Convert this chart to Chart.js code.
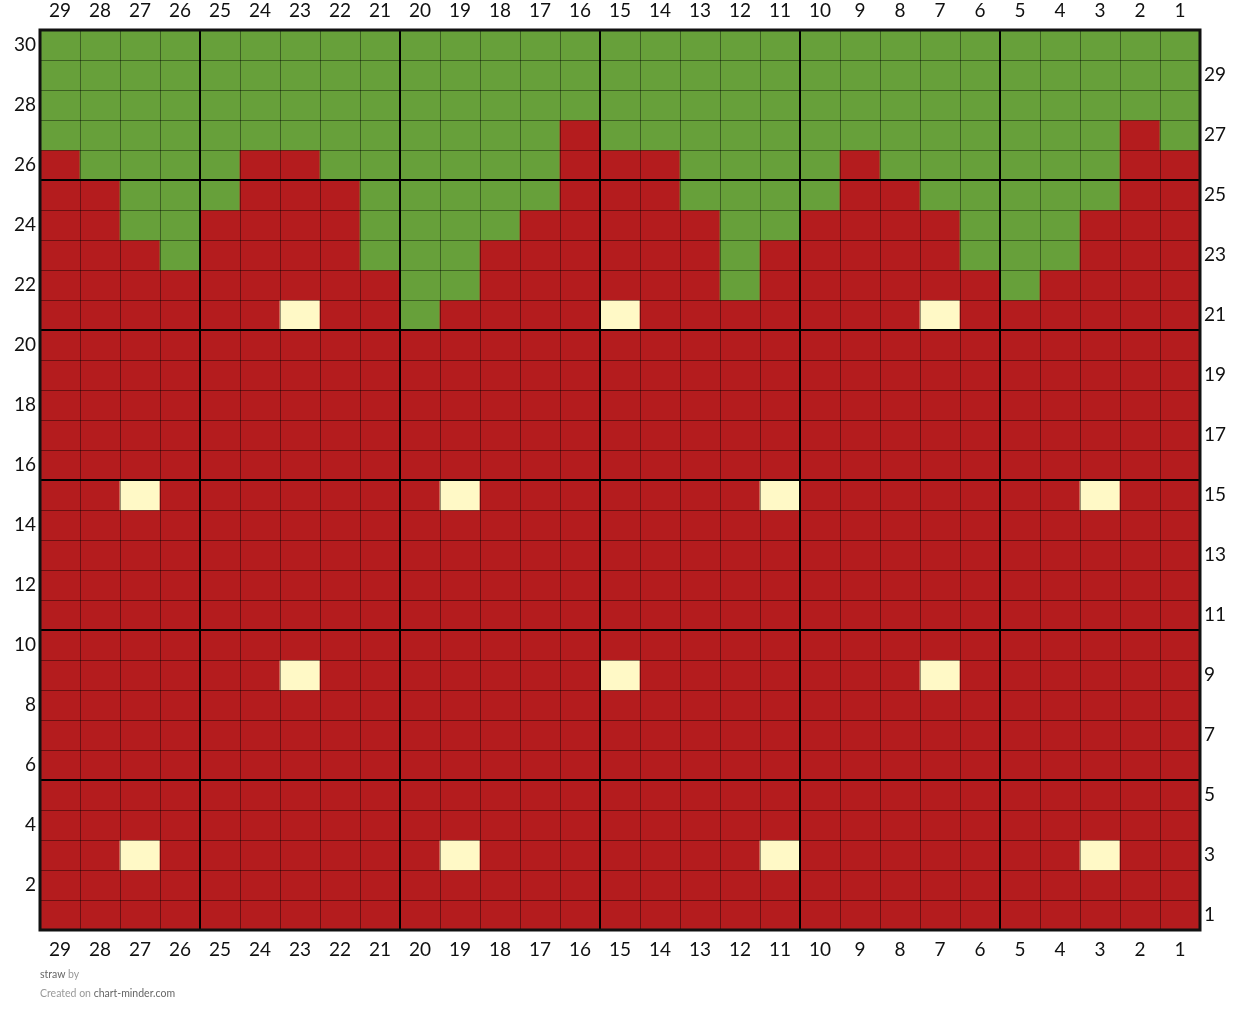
<!DOCTYPE html>
<html>
<head>
<meta charset="utf-8">
<title>straw</title>
<script src="https://cdn.jsdelivr.net/npm/chart.js@4.4.1/dist/chart.umd.min.js"></script>
<style>
  body { margin: 0; background: #fff; font-family: Lato, "Noto Sans", sans-serif; }
  #wrap { position: relative; width: 1240px; height: 1023px; }
  .foot { position: absolute; left: 40px; font-size: 10.5px; color: #999; white-space: nowrap; }
  .foot b { font-weight: normal; color: #666; }
</style>
</head>
<body>
<div id="wrap">
  <canvas id="chart" width="1240" height="1023"></canvas>
  <div class="foot" style="top:968px"><b>straw</b> by</div>
  <div class="foot" style="top:987px">Created on <b>chart-minder.com</b></div>
</div>
<script>
// column numbers, left to right
const colLabels = ["29","28","27","26","25","24","23","22","21","20","19","18","17","16","15",
                   "14","13","12","11","10","9","8","7","6","5","4","3","2","1"];
const leftRowLabels = [30, 28, 26, 24, 22, 20, 18, 16, 14, 12, 10, 8, 6, 4, 2];
const rightRowLabels = [29, 27, 25, 23, 21, 19, 17, 15, 13, 11, 9, 7, 5, 3, 1];

// one string per row, row 30 first; G = green, R = red, Y = seed
const rowPattern = [
  "GGGGGGGGGGGGGGGGGGGGGGGGGGGGG", // 30
  "GGGGGGGGGGGGGGGGGGGGGGGGGGGGG", // 29
  "GGGGGGGGGGGGGGGGGGGGGGGGGGGGG", // 28
  "GGGGGGGGGGGGGRGGGGGGGGGGGGGRG", // 27
  "RGGGGRRGGGGGGRRRGGGGRGGGGGGRR", // 26
  "RRGGGRRRGGGGGRRRGGGGRRGGGGGRR", // 25
  "RRGGRRRRGGGGRRRRRGGRRRRGGGRRR", // 24
  "RRRGRRRRGGGRRRRRRGRRRRRGGGRRR", // 23
  "RRRRRRRRRGGRRRRRRGRRRRRRGRRRR", // 22
  "RRRRRRYRRGRRRRYRRRRRRRYRRRRRR", // 21
  "RRRRRRRRRRRRRRRRRRRRRRRRRRRRR", // 20
  "RRRRRRRRRRRRRRRRRRRRRRRRRRRRR", // 19
  "RRRRRRRRRRRRRRRRRRRRRRRRRRRRR", // 18
  "RRRRRRRRRRRRRRRRRRRRRRRRRRRRR", // 17
  "RRRRRRRRRRRRRRRRRRRRRRRRRRRRR", // 16
  "RRYRRRRRRRYRRRRRRRYRRRRRRRYRR", // 15
  "RRRRRRRRRRRRRRRRRRRRRRRRRRRRR", // 14
  "RRRRRRRRRRRRRRRRRRRRRRRRRRRRR", // 13
  "RRRRRRRRRRRRRRRRRRRRRRRRRRRRR", // 12
  "RRRRRRRRRRRRRRRRRRRRRRRRRRRRR", // 11
  "RRRRRRRRRRRRRRRRRRRRRRRRRRRRR", // 10
  "RRRRRRYRRRRRRRYRRRRRRRYRRRRRR", // 9
  "RRRRRRRRRRRRRRRRRRRRRRRRRRRRR", // 8
  "RRRRRRRRRRRRRRRRRRRRRRRRRRRRR", // 7
  "RRRRRRRRRRRRRRRRRRRRRRRRRRRRR", // 6
  "RRRRRRRRRRRRRRRRRRRRRRRRRRRRR", // 5
  "RRRRRRRRRRRRRRRRRRRRRRRRRRRRR", // 4
  "RRYRRRRRRRYRRRRRRRYRRRRRRRYRR", // 3
  "RRRRRRRRRRRRRRRRRRRRRRRRRRRRR", // 2
  "RRRRRRRRRRRRRRRRRRRRRRRRRRRRR"  // 1
];

const palette = { G: "#67a03a", R: "#b41c1e", Y: "#fff9c6" };
const nRows = rowPattern.length;
const nCols = colLabels.length;

// each row is a dataset of floating bars [row-1, row]
const datasets = rowPattern.map((pat, k) => {
  const r = nRows - k;
  return {
    label: "row " + r,
    data: colLabels.map(() => [r - 1, r]),
    backgroundColor: [...pat].map(ch => palette[ch]),
    borderWidth: 0,
    grouped: false,
    barPercentage: 1,
    categoryPercentage: 1
  };
});

// stitch lines: thin per cell, heavy every 5 (counted from the right / bottom)
const gridLines = {
  id: "gridLines",
  afterDatasetsDraw(chart) {
    const { ctx, chartArea: a, scales: { x, y } } = chart;
    ctx.save();
    const line = (x1, y1, x2, y2, w, c) => {
      ctx.beginPath();
      ctx.lineWidth = w;
      ctx.strokeStyle = c;
      ctx.moveTo(x1, y1);
      ctx.lineTo(x2, y2);
      ctx.stroke();
    };
    for (let i = 1; i < nCols; i++) {
      const px = Math.round(x.getPixelForValue(i - 0.5)) + 0.5;
      line(px, a.top, px, a.bottom, 1, "rgba(0,0,0,0.4)");
    }
    for (let r = 1; r < nRows; r++) {
      const py = Math.round(y.getPixelForValue(r)) + 0.5;
      line(a.left, py, a.right, py, 1, "rgba(0,0,0,0.4)");
    }
    for (let i = 1; i < nCols; i++) {
      if ((nCols - i) % 5 === 0) {
        const px = Math.round(x.getPixelForValue(i - 0.5));
        line(px, a.top, px, a.bottom, 2, "#000");
      }
    }
    for (let r = 5; r < nRows; r += 5) {
      const py = Math.round(y.getPixelForValue(r));
      line(a.left, py, a.right, py, 2, "#000");
    }
    ctx.lineWidth = 3;
    ctx.strokeStyle = "#111";
    ctx.strokeRect(a.left, a.top, a.right - a.left, a.bottom - a.top);
    ctx.restore();
  }
};

const tickFont = { family: "Lato, 'Noto Sans', sans-serif", size: 19 };
const noGrid = { display: false, drawTicks: false };

new Chart(document.getElementById("chart"), {
  type: "bar",
  data: { labels: colLabels, datasets: datasets },
  options: {
    responsive: false,
    animation: false,
    layout: { padding: { top: 0, left: 0, right: 0, bottom: 57 } },
    plugins: { legend: { display: false }, tooltip: { enabled: false } },
    scales: {
      x: {
        position: "bottom",
        grid: noGrid,
        border: { display: false },
        ticks: { color: "#111", font: tickFont, padding: 8, maxRotation: 0, autoSkip: false },
        afterFit: s => { s.height = 36; }
      },
      x2: {
        type: "category",
        position: "top",
        labels: colLabels,
        grid: noGrid,
        border: { display: false },
        ticks: { color: "#111", font: tickFont, padding: 8, maxRotation: 0, autoSkip: false },
        afterFit: s => { s.height = 30; }
      },
      y: {
        type: "linear",
        position: "left",
        min: 0,
        max: nRows,
        grid: noGrid,
        border: { display: false },
        afterBuildTicks: s => { s.ticks = leftRowLabels.map(r => ({ value: r - 0.5 })); },
        ticks: { color: "#111", font: tickFont, padding: 4, callback: v => v + 0.5 },
        afterFit: s => { s.width = 40; }
      },
      y2: {
        type: "linear",
        position: "right",
        min: 0,
        max: nRows,
        grid: noGrid,
        border: { display: false },
        afterBuildTicks: s => { s.ticks = rightRowLabels.map(r => ({ value: r - 0.5 })); },
        ticks: { color: "#111", font: tickFont, padding: 4, callback: v => v + 0.5 },
        afterFit: s => { s.width = 40; }
      }
    }
  },
  plugins: [gridLines]
});
</script>
</body>
</html>
